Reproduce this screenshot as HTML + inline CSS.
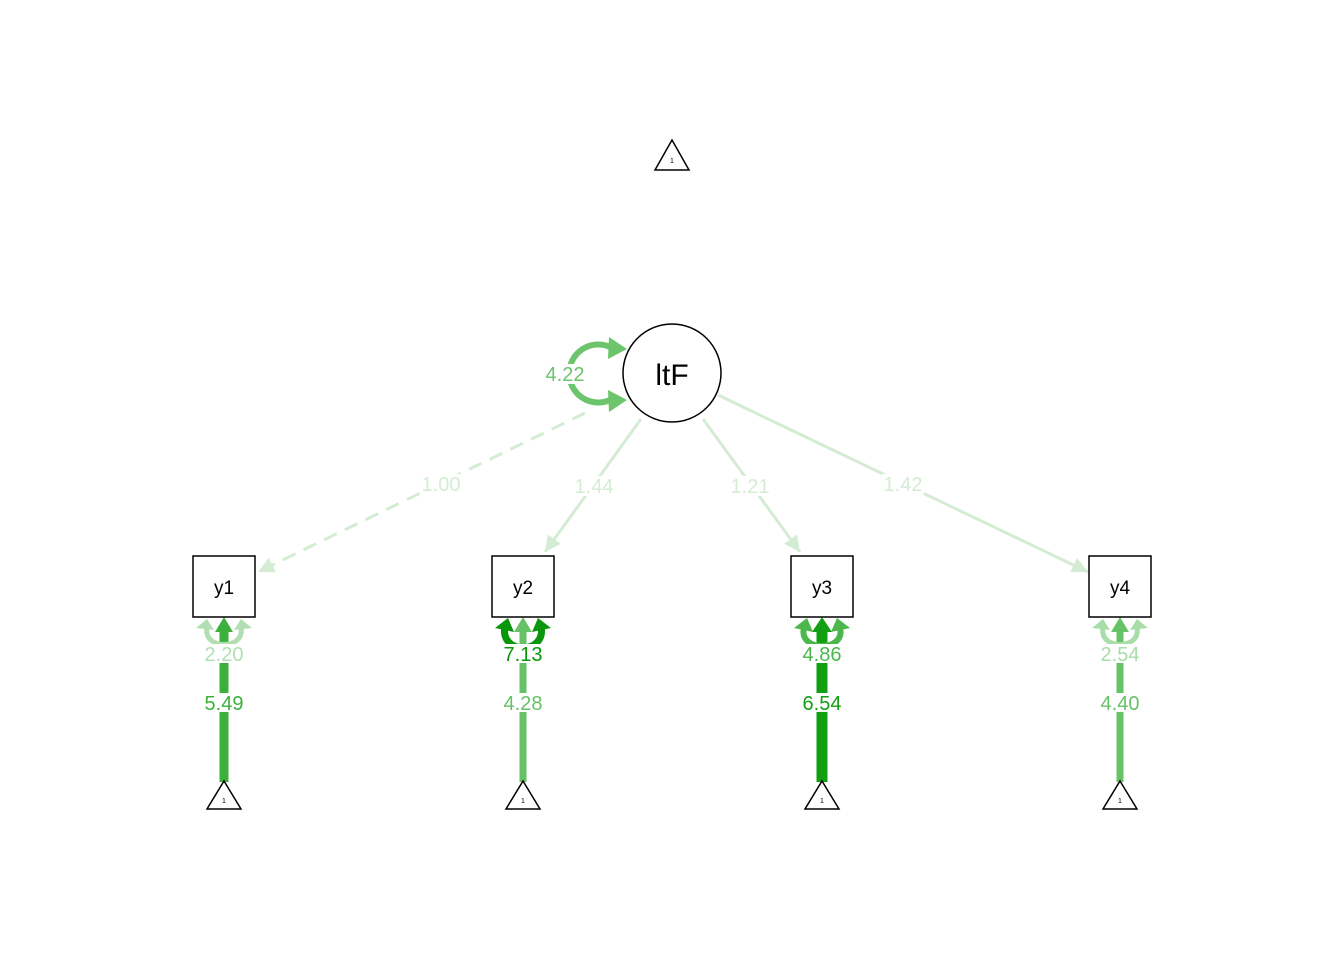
<!DOCTYPE html>
<html><head><meta charset="utf-8"><style>
html,body{margin:0;padding:0;background:#fff;}
svg{display:block;font-family:"Liberation Sans",Arial,sans-serif;}
</style></head><body>
<svg width="1344" height="960" viewBox="0 0 1344 960" xmlns="http://www.w3.org/2000/svg">
<defs>
<marker id="aL" markerUnits="userSpaceOnUse" markerWidth="20" markerHeight="20" refX="16" refY="8" orient="auto"><path d="M0,0 L16,8 L0,16 Z" fill="#d4ecd4"/></marker>
</defs>
<rect width="1344" height="960" fill="#fff"/>

<line x1="585" y1="413" x2="258" y2="572" stroke="#d4ecd4" stroke-width="3" stroke-dasharray="14,9" marker-end="url(#aL)"/>
<line x1="641" y1="419" x2="545" y2="552" stroke="#d4ecd4" stroke-width="3" marker-end="url(#aL)"/>
<line x1="703" y1="419" x2="800" y2="552" stroke="#d4ecd4" stroke-width="3" marker-end="url(#aL)"/>
<line x1="718" y1="395" x2="1088" y2="572" stroke="#d4ecd4" stroke-width="3" marker-end="url(#aL)"/>

<path d="M610,347 A29,29 0 1,0 610,400" fill="none" stroke="#6cc46c" stroke-width="6"/>
<path d="M627,349 L609,337 L608,359 Z" fill="#6cc46c"/>
<path d="M627,400 L608,390 L609,412 Z" fill="#6cc46c"/>

<g>
<line x1="224" y1="782" x2="224" y2="630" stroke="#3cb03c" stroke-width="9"/>
<path d="M215,632 L224,617 L233,632 Z" fill="#3cb03c"/>
<line x1="523" y1="782" x2="523" y2="630" stroke="#66c266" stroke-width="7"/>
<path d="M514,632 L523,617 L532,632 Z" fill="#66c266"/>
<line x1="822" y1="782" x2="822" y2="630" stroke="#12a012" stroke-width="11"/>
<path d="M812,632 L822,617 L832,632 Z" fill="#12a012"/>
<line x1="1120" y1="782" x2="1120" y2="630" stroke="#66c266" stroke-width="7"/>
<path d="M1111,632 L1120,617 L1129,632 Z" fill="#66c266"/>
</g>

<g fill="none" stroke-width="5">
<path d="M207,628 C203,650 245,650 241,628" stroke="#b2dfb2"/>
<path d="M505,626 C499,655 547,655 541,626" stroke="#0a960a" stroke-width="7"/>
<path d="M804,628 C798,652 846,652 840,628" stroke="#4cb84c" stroke-width="6"/>
<path d="M1103,628 C1099,650 1141,650 1137,628" stroke="#a8dca8"/>
</g>
<g>
<path d="M196,628 L207,619 L214,630 Z" fill="#b2dfb2"/><path d="M234,630 L241,619 L252,628 Z" fill="#b2dfb2"/>
<path d="M495,628 L508,618 L514,632 Z" fill="#0a960a"/><path d="M532,632 L538,618 L551,628 Z" fill="#0a960a"/>
<path d="M794,628 L807,618 L813,632 Z" fill="#4cb84c"/><path d="M831,632 L837,618 L850,628 Z" fill="#4cb84c"/>
<path d="M1092,628 L1103,619 L1110,630 Z" fill="#a8dca8"/><path d="M1130,630 L1137,619 L1148,628 Z" fill="#a8dca8"/>
</g>

<circle cx="672" cy="373" r="49" fill="#fff" stroke="#000" stroke-width="1.5"/>
<text x="672" y="385" font-size="30" text-anchor="middle">ltF</text>
<g fill="#fff" stroke="#000" stroke-width="1.5">
<rect x="193" y="556" width="62" height="61"/>
<rect x="492" y="556" width="62" height="61"/>
<rect x="791" y="556" width="62" height="61"/>
<rect x="1089" y="556" width="62" height="61"/>
</g>
<g font-size="19" text-anchor="middle">
<text x="224" y="594">y1</text><text x="523" y="594">y2</text><text x="822" y="594">y3</text><text x="1120" y="594">y4</text>
</g>

<g fill="#fff" stroke="#000" stroke-width="1.5">
<path d="M672,140 L689,170 L655,170 Z"/>
<path d="M224,781 L241,809 L207,809 Z"/>
<path d="M523,781 L540,809 L506,809 Z"/>
<path d="M822,781 L839,809 L805,809 Z"/>
<path d="M1120,781 L1137,809 L1103,809 Z"/>
</g>
<g font-size="7" text-anchor="middle">
<text x="672" y="163">1</text><text x="224" y="803">1</text><text x="523" y="803">1</text><text x="822" y="803">1</text><text x="1120" y="803">1</text>
</g>

<g font-size="20" text-anchor="middle">
<rect x="544" y="364" width="42" height="20" fill="#fff"/>
<text x="565" y="381" fill="#6cc46c">4.22</text>
<rect x="420" y="474" width="42" height="20" fill="#fff"/><text x="441" y="491" fill="#d4ecd4">1.00</text>
<rect x="573" y="476" width="42" height="20" fill="#fff"/><text x="594" y="493" fill="#d4ecd4">1.44</text>
<rect x="729" y="476" width="42" height="20" fill="#fff"/><text x="750" y="493" fill="#d4ecd4">1.21</text>
<rect x="882" y="474" width="42" height="20" fill="#fff"/><text x="903" y="491" fill="#d4ecd4">1.42</text>

<rect x="203" y="644" width="42" height="19" fill="#fff"/><text x="224" y="661" fill="#b2dfb2">2.20</text>
<rect x="502" y="644" width="42" height="19" fill="#fff"/><text x="523" y="661" fill="#0a960a">7.13</text>
<rect x="801" y="644" width="42" height="19" fill="#fff"/><text x="822" y="661" fill="#4cb84c">4.86</text>
<rect x="1099" y="644" width="42" height="19" fill="#fff"/><text x="1120" y="661" fill="#a8dca8">2.54</text>

<rect x="203" y="693" width="42" height="19" fill="#fff"/><text x="224" y="710" fill="#3cb03c">5.49</text>
<rect x="502" y="693" width="42" height="19" fill="#fff"/><text x="523" y="710" fill="#66c266">4.28</text>
<rect x="801" y="693" width="42" height="19" fill="#fff"/><text x="822" y="710" fill="#12a012">6.54</text>
<rect x="1099" y="693" width="42" height="19" fill="#fff"/><text x="1120" y="710" fill="#66c266">4.40</text>
</g>
</svg>
</body></html>
